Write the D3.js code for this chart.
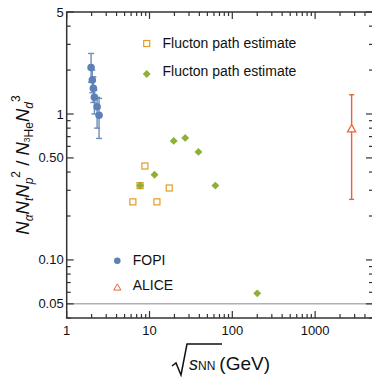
<!DOCTYPE html>
<html>
<head>
<meta charset="utf-8">
<script src="https://cdn.jsdelivr.net/npm/d3@7"></script>
<style>
  body { margin: 0; background: #fff; }
  svg { font-family: "Liberation Sans", Arial, sans-serif; }
</style>
</head>
<body>
<svg id="chart" width="372" height="377"></svg>
<script>
// FOPI: sqrt(s), ratio, lower, upper
const fopiX = [1.97, 2.04, 2.10, 2.16, 2.33, 2.46];
const fopiY = [2.08, 1.71, 1.50, 1.30, 1.12, 0.98];
const fopiLo = [1.65, 1.40, 1.20, 1.00, 0.80, 0.68];
const fopiHi = [2.60, 2.00, 1.80, 1.45, 1.30, 1.28];

// open squares
const sqX = [6.3, 7.7, 8.8, 12.3, 17.3];
const sqY = [0.25, 0.323, 0.44, 0.25, 0.311];

// filled diamonds
const dmX = [7.7, 11.5, 19.6, 27, 39, 62.4, 200];
const dmY = [0.323, 0.383, 0.654, 0.686, 0.55, 0.323, 0.059];

// ALICE
const aliceX = [2760];
const aliceY = [0.79];
const aliceLo = [0.26];
const aliceHi = [1.355];

const xMajor = [1, 10, 100, 1000];
const yMajor = [0.05, 0.1, 0.5, 1, 5];
const yMajorLabels = ['0.05', '0.10', '0.50', '1', '5'];
const refLine = 0.05;

const cBlue = '#5e81b5', cOrange = '#e19c24', cGreen = '#8fb032', cRed = '#eb6235';

const svg = d3.select('#chart');
const mLeft = 66.7, mRight = 373, mTop = 12, mBottom = 318;

const x = d3.scaleLog().domain([1, 5000]).range([mLeft, mRight]);
const y = d3.scaleLog().domain([0.04, 5]).range([mBottom, mTop]);

// reference line
svg.append('line')
  .attr('x1', mLeft).attr('x2', mRight)
  .attr('y1', y(refLine)).attr('y2', y(refLine))
  .attr('stroke', '#b0b0b0').attr('stroke-width', 1.5);

// frame ticks
const frame = svg.append('g').attr('stroke', '#333').attr('stroke-width', 1.2);
const isMajor = (v, list) => list.some(m => Math.abs(m - v) / m < 1e-6);

x.ticks().forEach(v => {
  const len = isMajor(v, xMajor) ? 7 : 4;
  frame.append('line').attr('x1', x(v)).attr('x2', x(v)).attr('y1', mBottom).attr('y2', mBottom - len);
  frame.append('line').attr('x1', x(v)).attr('x2', x(v)).attr('y1', mTop).attr('y2', mTop + len);
});
y.ticks().forEach(v => {
  const len = isMajor(v, yMajor) ? 7 : 4;
  frame.append('line').attr('y1', y(v)).attr('y2', y(v)).attr('x1', mLeft).attr('x2', mLeft + len);
  frame.append('line').attr('y1', y(v)).attr('y2', y(v)).attr('x1', mRight).attr('x2', mRight - len);
});
frame.append('rect')
  .attr('x', mLeft).attr('y', mTop)
  .attr('width', mRight - mLeft).attr('height', mBottom - mTop)
  .attr('fill', 'none').attr('stroke-width', 1.5);

// tick labels
svg.selectAll('.xl').data(xMajor).enter().append('text')
  .attr('x', d => x(d)).attr('y', 335)
  .attr('text-anchor', 'middle').attr('font-size', 13).attr('fill', '#111')
  .text(d => d);
svg.selectAll('.yl').data(yMajor).enter().append('text')
  .attr('x', mLeft - 3).attr('y', d => y(d) + 4.5)
  .attr('text-anchor', 'end').attr('font-size', 13).attr('fill', '#111')
  .text((d, i) => yMajorLabels[i]);

// FOPI error bars + points
const fopi = d3.range(fopiX.length).map(i => ({x: fopiX[i], y: fopiY[i], lo: fopiLo[i], hi: fopiHi[i]}));
const fg = svg.append('g').attr('stroke', cBlue).attr('stroke-width', 1.4).attr('opacity', 0.9);
fopi.forEach(d => {
  fg.append('line').attr('x1', x(d.x)).attr('x2', x(d.x)).attr('y1', y(d.lo)).attr('y2', y(d.hi));
  [d.lo, d.hi].forEach(v => fg.append('line')
    .attr('x1', x(d.x) - 3).attr('x2', x(d.x) + 3).attr('y1', y(v)).attr('y2', y(v)));
});
svg.selectAll('.fopi').data(fopi).enter().append('circle')
  .attr('cx', d => x(d.x)).attr('cy', d => y(d.y)).attr('r', 3.8)
  .attr('fill', cBlue);

// squares
const sq = d3.range(sqX.length).map(i => ({x: sqX[i], y: sqY[i]}));
svg.selectAll('.sq').data(sq).enter().append('rect')
  .attr('x', d => x(d.x) - 3).attr('y', d => y(d.y) - 3)
  .attr('width', 6).attr('height', 6)
  .attr('fill', '#fff').attr('stroke', cOrange).attr('stroke-width', 1.2);

// diamonds
const diamond = d3.symbol().type(d3.symbolDiamond2).size(40);
const dm = d3.range(dmX.length).map(i => ({x: dmX[i], y: dmY[i]}));
svg.selectAll('.dm').data(dm).enter().append('path')
  .attr('d', diamond)
  .attr('transform', d => `translate(${x(d.x)},${y(d.y)})`)
  .attr('fill', cGreen);

// ALICE
const alice = d3.range(aliceX.length).map(i => ({x: aliceX[i], y: aliceY[i], lo: aliceLo[i], hi: aliceHi[i]}));
const ag = svg.append('g').attr('stroke', cRed).attr('stroke-width', 1.4);
alice.forEach(d => {
  ag.append('line').attr('x1', x(d.x)).attr('x2', x(d.x)).attr('y1', y(d.lo)).attr('y2', y(d.hi));
  [d.lo, d.hi].forEach(v => ag.append('line')
    .attr('x1', x(d.x) - 2.5).attr('x2', x(d.x) + 2.5).attr('y1', y(v)).attr('y2', y(v)));
});
const tri = d3.symbol().type(d3.symbolTriangle).size(30);
svg.selectAll('.al').data(alice).enter().append('path')
  .attr('d', tri)
  .attr('transform', d => `translate(${x(d.x)},${y(d.y) + 0.5})`)
  .attr('fill', '#fff').attr('stroke', cRed).attr('stroke-width', 1.2);

// legends
const leg = svg.append('g').attr('font-size', 14).attr('fill', '#111');
leg.append('rect').attr('x', 143.7).attr('y', 40.5).attr('width', 6).attr('height', 6)
  .attr('fill', '#fff').attr('stroke', cOrange).attr('stroke-width', 1.2);
leg.append('text').attr('x', 162.5).attr('y', 47.5).text('Flucton path estimate');
leg.append('path').attr('d', diamond).attr('transform', 'translate(146.7,74)').attr('fill', cGreen);
leg.append('text').attr('x', 162.5).attr('y', 75.5).text('Flucton path estimate');
leg.append('circle').attr('cx', 117.3).attr('cy', 260.7).attr('r', 3.3).attr('fill', cBlue);
leg.append('text').attr('x', 132.7).attr('y', 264.5).text('FOPI');
leg.append('path').attr('d', d3.symbol().type(d3.symbolTriangle).size(22))
  .attr('transform', 'translate(117.3,288)')
  .attr('fill', '#fff').attr('stroke', cRed).attr('stroke-width', 1);
leg.append('text').attr('x', 132.7).attr('y', 289.5).text('ALICE');

// x title: sqrt(s_NN) (GeV)
const xt = svg.append('g');
xt.append('path')
  .attr('d', 'M172,366 L176,363 L181,375 L187,344 L222,344')
  .attr('fill', 'none').attr('stroke', '#111').attr('stroke-width', 1.5);
const xtt = xt.append('text').attr('x', 189).attr('y', 370).attr('fill', '#111');
xtt.append('tspan').attr('font-size', 18).attr('font-style', 'italic').text('s');
xtt.append('tspan').attr('font-size', 12).text('NN');
xtt.append('tspan').attr('font-size', 19).attr('dx', 4).text('(GeV)');

// y title
const yt = svg.append('text')
  .attr('transform', `translate(29,${(mTop + mBottom) / 2}) rotate(-90)`)
  .attr('text-anchor', 'middle').attr('font-size', 18.5).attr('fill', '#111');
const it = (s) => yt.append('tspan').attr('font-style', 'italic').text(s);
const sub = (s, italic, dy) => yt.append('tspan').attr('font-size', 12).attr('dy', dy)
  .attr('font-style', italic ? 'italic' : 'normal').text(s);
it('N'); sub('α', true, 4);
it('N').attr('dy', -4); sub('t', true, 4);
it('N').attr('dy', -4); sub('p', true, 4);
yt.append('tspan').attr('font-size', 12).attr('dy', -13).text('2');
yt.append('tspan').attr('dy', 9).text(' / ');
it('N');
yt.append('tspan').attr('font-size', 8.5).attr('dy', 1).text('3');
yt.append('tspan').attr('font-size', 12).attr('dy', 3).text('He');
it('N').attr('dy', -4); sub('d', true, 4);
yt.append('tspan').attr('font-size', 12).attr('dy', -13).text('3');
</script>
</body>
</html>
